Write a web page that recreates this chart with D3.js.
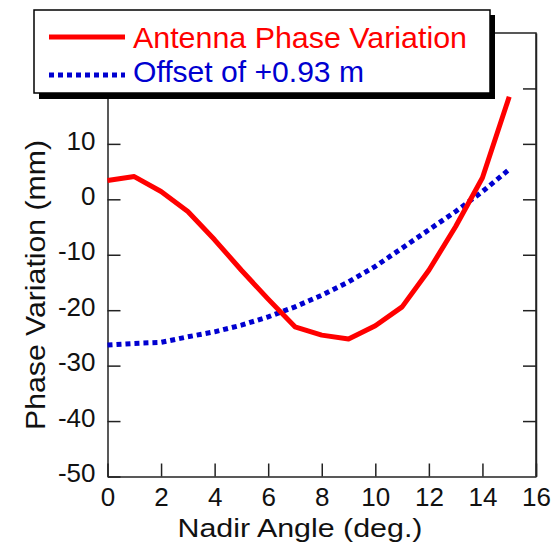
<!DOCTYPE html>
<html>
<head>
<meta charset="utf-8">
<script src="https://cdn.jsdelivr.net/npm/d3@7"></script>
<style>
  body { margin: 0; background: #fff; }
  text { font-family: "Liberation Sans", Arial, Helvetica, sans-serif; }
</style>
</head>
<body>
<script>
let w = 553;
let h = 545;

// nadir angle (deg.)
let angles = [0, 1, 2, 3, 4, 5, 6, 7, 8, 9, 10, 11, 12, 13, 14, 15];
// antenna phase variation (mm)
let phaseVar = [3.4, 4.1, 1.4, -2.2, -7.3, -12.8, -18.0, -23.0, -24.5, -25.2, -22.8, -19.4, -12.8, -4.9, 3.9, 18.5];
// offset of +0.93 m (mm)
let offsetVar = [-26.3, -26.0, -25.8, -24.8, -23.9, -22.7, -21.2, -19.4, -17.3, -14.9, -12.1, -8.8, -5.5, -2.2, 1.4, 5.4];

let xTicks = [0, 2, 4, 6, 8, 10, 12, 14, 16];
let yTicks = [-50, -40, -30, -20, -10, 0, 10];
let yTicksRight = [-40, -30, -20, -10, 0, 10, 20];

let legendLabels = ["Antenna Phase Variation", "Offset of +0.93 m"];

let padL = 107.5, padR = 536, padT = 33, padB = 476.5;

let xScale = d3.scaleLinear().domain([0, 16]).range([padL, padR]);
let yScale = d3.scaleLinear().domain([-50, 30]).range([padB, padT]);

let svg = d3.select("body")
  .append("svg")
  .attr("width", w)
  .attr("height", h);

svg.append("rect").attr("width", w).attr("height", h).attr("fill", "#fff");

// frame: top and right edges
svg.append("path")
  .attr("d", "M" + padL + "," + padT + "H" + padR + "V" + padB)
  .attr("fill", "none")
  .attr("stroke", "#222")
  .attr("stroke-width", 1.5);

let xAxis = d3.axisBottom(xScale)
  .tickValues(xTicks)
  .tickSizeInner(-13)
  .tickSizeOuter(0)
  .tickPadding(11);

// plain hyphen for negatives, like the original
let yAxis = d3.axisLeft(yScale)
  .tickValues(yTicks)
  .tickFormat((d) => String(d))
  .tickSizeInner(-13)
  .tickSizeOuter(0)
  .tickPadding(12);

let yAxisRight = d3.axisRight(yScale)
  .tickValues(yTicksRight)
  .tickSizeInner(-13)
  .tickSizeOuter(0)
  .tickFormat("");

let gx = svg.append("g")
  .attr("transform", "translate(0," + padB + ")")
  .call(xAxis);

let gy = svg.append("g")
  .attr("transform", "translate(" + padL + ",0)")
  .call(yAxis);

svg.append("g")
  .attr("transform", "translate(" + padR + ",0)")
  .call(yAxisRight);

svg.selectAll(".domain, .tick line")
  .attr("stroke", "#222")
  .attr("stroke-width", 1.5);

svg.selectAll(".tick text")
  .attr("font-size", 26)
  .attr("font-family", "Liberation Sans, Arial, sans-serif")
  .attr("fill", "#111");

gy.selectAll(".tick text").attr("dy", "0.2em");

// series
let line = d3.line()
  .x((d, i) => xScale(angles[i]))
  .y((d) => yScale(d));

svg.append("path")
  .datum(offsetVar)
  .attr("d", line)
  .attr("fill", "none")
  .attr("stroke", "#0000d0")
  .attr("stroke-width", 5)
  .attr("stroke-dasharray", "5,4");

svg.append("path")
  .datum(phaseVar)
  .attr("d", line)
  .attr("fill", "none")
  .attr("stroke", "#ff0000")
  .attr("stroke-width", 5)
  .attr("stroke-linejoin", "round");

// axis titles
svg.append("text")
  .attr("x", 300)
  .attr("y", 537)
  .attr("text-anchor", "middle")
  .attr("font-size", 25)
  .attr("textLength", 245)
  .attr("lengthAdjust", "spacingAndGlyphs")
  .attr("fill", "#111")
  .text("Nadir Angle (deg.)");

svg.append("text")
  .attr("transform", "translate(45,285) rotate(-90)")
  .attr("text-anchor", "middle")
  .attr("font-size", 27)
  .attr("textLength", 290)
  .attr("lengthAdjust", "spacingAndGlyphs")
  .attr("fill", "#111")
  .text("Phase Variation (mm)");

// legend
let lg = svg.append("g");
lg.append("rect")
  .attr("x", 39).attr("y", 15)
  .attr("width", 456).attr("height", 84)
  .attr("fill", "#000");
lg.append("rect")
  .attr("x", 34).attr("y", 10)
  .attr("width", 456).attr("height", 83)
  .attr("fill", "#fff")
  .attr("stroke", "#000")
  .attr("stroke-width", 1.5);

let legendColors = ["#ff0000", "#0000d0"];
let legendDash = [null, "5,4"];
let legendY = [37, 75];
let legendBase = [48, 82];
let legendLen = [334, 231];

legendLabels.forEach((lab, i) => {
  lg.append("line")
    .attr("x1", 49).attr("x2", 125)
    .attr("y1", legendY[i]).attr("y2", legendY[i])
    .attr("stroke", legendColors[i])
    .attr("stroke-width", 5)
    .attr("stroke-dasharray", legendDash[i]);
  lg.append("text")
    .attr("x", 133)
    .attr("y", legendBase[i])
    .attr("font-size", 30)
    .attr("textLength", legendLen[i])
    .attr("lengthAdjust", "spacingAndGlyphs")
    .attr("fill", legendColors[i])
    .text(lab);
});
</script>
</body>
</html>
